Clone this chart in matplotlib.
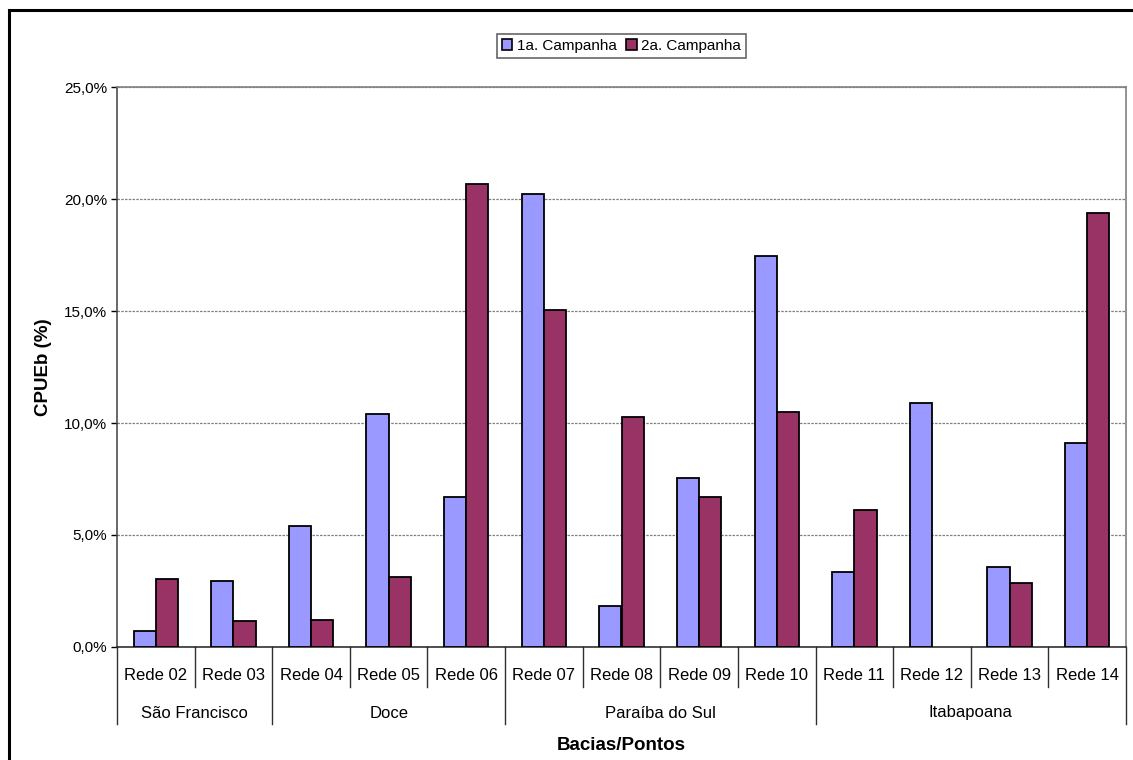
import numpy as np
import matplotlib
matplotlib.use("Agg")
import matplotlib.pyplot as plt
from matplotlib.patches import Rectangle, Patch

plt.rcParams['font.family'] = ['Liberation Sans', 'DejaVu Sans']

# Data (CPUEb in %)
pontos = ['Rede 02', 'Rede 03', 'Rede 04', 'Rede 05', 'Rede 06', 'Rede 07', 'Rede 08',
          'Rede 09', 'Rede 10', 'Rede 11', 'Rede 12', 'Rede 13', 'Rede 14']
bacias = ['São Francisco', 'Doce', 'Paraíba do Sul', 'Itabapoana']
n_por_bacia = [2, 3, 4, 4]
camp1 = [0.73, 2.96, 5.40, 10.40, 6.71, 20.22, 1.84, 7.56, 17.47, 3.33, 10.90, 3.57, 9.09]
camp2 = [3.04, 1.16, 1.22, 3.13, 20.67, 15.06, 10.29, 6.71, 10.47, 6.13, 0.0, 2.86, 19.39]
series_names = ['1a. Campanha', '2a. Campanha']
yticks = [0, 5, 10, 15, 20, 25]

c1 = '#9999FF'
c2 = '#993366'

W, H = 1133, 760
fig = plt.figure(figsize=(W / 100, H / 100), dpi=100)

# outer chart border (right/bottom clipped off like the reference)
fig.patches.append(Rectangle((9 / W, -0.05), 1.1, 1 - 10 / H + 0.05, transform=fig.transFigure,
                             fill=False, edgecolor='black', linewidth=2.2))

L, R, T, B = 117, 1126, 87, 647
ax = fig.add_axes([L / W, 1 - B / H, (R - L) / W, (B - T) / H])

x = np.arange(len(pontos))
w = 1 / 3.5
# zero-height bars get no outline so they don't thicken the axis line
ax.bar(x - w / 2, camp1, w, color=c1, edgecolor='black',
       linewidth=[1.3 if v > 0 else 0 for v in camp1], zorder=3)
ax.bar(x + w / 2, camp2, w, color=c2, edgecolor='black',
       linewidth=[1.3 if v > 0 else 0 for v in camp2], zorder=3)

ax.set_xlim(-0.5, len(pontos) - 0.5)
ax.set_ylim(0, 25)
ax.set_yticks(yticks)
ax.set_yticklabels([('%.1f%%' % v).replace('.', ',') for v in yticks], fontsize=11)
ax.yaxis.grid(True, color='#808080', linestyle=(0, (2, 1)), linewidth=0.9, zorder=0)
ax.tick_params(axis='y', length=4, width=1, pad=3, color='black')
ax.set_xticks([])

for s in ['top', 'right']:
    ax.spines[s].set_color('#808080')
    ax.spines[s].set_linewidth(1.2)
ax.spines['left'].set_color('#404040')
ax.spines['bottom'].set_color('#202020')
ax.spines['left'].set_linewidth(1.1)
ax.spines['bottom'].set_linewidth(1.1)

# two-level category axis
ph = B - T
tr = ax.get_xaxis_transform()
y_inner = -(687 - B) / ph
y_outer = -(724 - B) / ph
for i, p in enumerate(pontos):
    ax.text(i, -(675 - B) / ph, p, transform=tr, ha='center', va='center', fontsize=12)
bounds = np.concatenate([[0], np.cumsum(n_por_bacia)]) - 0.5
for k in range(len(pontos) + 1):
    xb = k - 0.5
    y1 = y_outer if xb in bounds else y_inner
    ax.plot([xb, xb], [0, y1], transform=tr, color='#303030', linewidth=1, clip_on=False)
for b, lo, hi in zip(bacias, bounds[:-1], bounds[1:]):
    ax.text((lo + hi) / 2, -(713 - B) / ph, b, transform=tr, ha='center', va='center', fontsize=12)

fig.text(621.5 / W, 1 - 746 / H, 'Bacias/Pontos', ha='center', va='center',
         fontsize=13.5, fontweight='bold')
fig.text(43 / W, 1 - 367 / H, 'CPUEb (%)', ha='center', va='center', rotation=90,
         fontsize=13.5, fontweight='bold')

handles = [Patch(facecolor=c1, edgecolor='black', linewidth=1.2),
           Patch(facecolor=c2, edgecolor='black', linewidth=1.2)]
leg = ax.legend(handles, series_names, loc='center', bbox_to_anchor=(0.5, (B - 46) / ph),
                ncol=2, fontsize=11, frameon=True, fancybox=False, edgecolor='#404040',
                handlelength=0.7, handleheight=0.7, handletextpad=0.3, columnspacing=0.6,
                borderpad=0.3, borderaxespad=0)
leg.get_frame().set_linewidth(1.2)

fig.savefig('out.png', dpi=100)
